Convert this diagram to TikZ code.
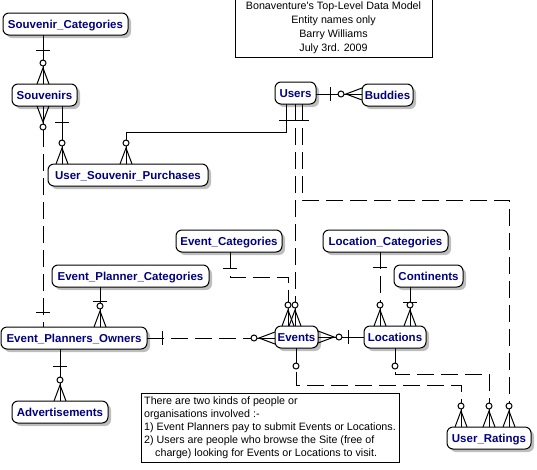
\documentclass[tikz,border=0pt]{standalone}
\usepackage{fontspec}
\newfontfamily\labelfont{Liberation Sans}
\usetikzlibrary{shadows}
\definecolor{entityblue}{RGB}{0,0,128}
\definecolor{shadowgray}{RGB}{190,190,190}
\begin{document}
\begin{tikzpicture}[x=1pt,y=-1pt,
  line/.style={line width=1pt, line cap=butt},
  rel/.style={line},
  optrel/.style={line, dash pattern=on 17pt off 7pt},
  entity/.style={draw, line width=1pt, rounded corners=6pt, fill=white,
    text=entityblue, font=\labelfont\fontsize{11.5}{13}\selectfont\bfseries,
    inner sep=0pt, outer sep=0pt, minimum height=22pt,
    text height=10pt, text depth=1pt,
    drop shadow={shadow xshift=3pt, shadow yshift=-3pt, fill=shadowgray, opacity=1}},
  textbox/.style={draw, line width=1pt, inner sep=0pt, outer sep=0pt, fill=white},
  % many-end: crow's foot on the box edge plus an optional ring
  crowfoot/.pic={
    \draw[line] (0,0) -- (18,0);
    \draw[line] (0,-6) -- (16,0) -- (0,6);
    \draw[line, fill=white] (21,0) circle (3pt);
  },
  % mandatory-one bar, across the connector
  onebar/.pic={\draw[line] (0,-7) -- (0,7);},
  % optional ring on the one-end
  zeroring/.pic={\draw[line, fill=white] (0,0) circle (3pt);}
]
\useasboundingbox (0,0) rectangle (537,469);

% ---------- header and note ----------
\node[textbox, minimum width=197pt, minimum height=58pt, align=center,
      font=\labelfont\fontsize{10.7}{13.9}\selectfont] (title) at (333.5,28)
  {Bonaventure's Top-Level Data Model\\Entity names only\\Barry Williams\\July 3rd. 2009};

\node[textbox, minimum width=258pt, minimum height=69pt, align=left,
      font=\labelfont\fontsize{10.7}{13}\selectfont] (note) at (270,427.5)
  {There are two kinds of people or\\
   organisations involved :-\\
   1) Event Planners pay to submit Events or Locations.\\
   2) Users are people who browse the Site (free of\\
   \hspace*{11pt}charge) looking for Events or Locations to visit.};

% ---------- entities ----------
\node[entity, minimum width=125pt] (sc)      at (65.5,24)  {Souvenir\_Categories};
\node[entity, minimum width=65pt]  (souv)    at (44.5,95)  {Souvenirs};
\node[entity, minimum width=160pt] (usp)     at (128,175)  {User\_Souvenir\_Purchases};
\node[entity, minimum width=41pt]  (users)   at (295.5,93) {Users};
\node[entity, minimum width=51pt]  (buddies) at (387.5,95) {Buddies};
\node[entity, minimum width=106pt] (ec)      at (229,241)  {Event\_Categories};
\node[entity, minimum width=157pt] (epc)     at (130.5,276){Event\_Planner\_Categories};
\node[entity, minimum width=146pt] (epo)     at (74,338)   {Event\_Planners\_Owners};
\node[entity, minimum width=96pt]  (ads)     at (60,412)   {Advertisements};
\node[entity, minimum width=43pt]  (events)  at (296.5,337){Events};
\node[entity, minimum width=62pt]  (loc)     at (395,337)  {Locations};
\node[entity, minimum width=125pt] (lc)      at (385.5,241){Location\_Categories};
\node[entity, minimum width=69pt]  (cont)    at (428.5,276){Continents};
\node[entity, minimum width=84pt]  (ur)      at (489,438)  {User\_Ratings};

% ---------- relationships ----------
% Souvenir_Categories -- Souvenirs
\draw[rel] (43,0 |- sc.south) -- (43,0 |- souv.north);
\pic[rotate=90] at (43,50) {onebar};
\pic[rotate=90] at (43,0 |- souv.north) {crowfoot};

% Souvenirs -- Event_Planners_Owners
\draw[optrel] (43,0 |- souv.south) -- (43,0 |- epo.north);
\pic[rotate=-90] at (43,0 |- souv.south) {crowfoot};
\pic[rotate=90] at (43,312) {onebar};

% Souvenirs -- User_Souvenir_Purchases
\draw[rel] (62,0 |- souv.south) -- (62,0 |- usp.north);
\pic[rotate=90] at (62,122) {onebar};
\pic[rotate=90] at (62,0 |- usp.north) {crowfoot};

% Users -- User_Souvenir_Purchases
\draw[rel] (286,0 |- users.south) -- (286,132) -- (126,132) -- (126,0 |- usp.north);
\pic[rotate=90] at (286,120) {onebar};
\pic[rotate=90] at (126,0 |- usp.north) {crowfoot};

% Users -- Events
\draw[optrel] (295,0 |- users.south) -- (295,0 |- events.north);
\pic[rotate=90] at (295,120) {onebar};
\pic[rotate=90] at (295,0 |- events.north) {crowfoot};

% Users -- User_Ratings
\draw[optrel] (302,0 |- users.south) -- (302,200) -- (509,200) -- (509,0 |- ur.north);
\pic[rotate=90] at (302,120) {onebar};
\pic[rotate=90] at (509,0 |- ur.north) {crowfoot};

% Users -- Buddies
\draw[rel] (users.east |- 0,94) -- (buddies.west |- 0,94);
\pic at (330,94) {onebar};
\pic[rotate=180] at (buddies.west |- 0,94) {crowfoot};

% Event_Categories -- Events
\draw[optrel] (230,0 |- ec.south) -- (230,277) -- (288,277) -- (288,0 |- events.north);
\pic[rotate=90] at (230,268) {onebar};
\pic[rotate=90] at (288,0 |- events.north) {crowfoot};

% Event_Planners_Owners -- Events
\draw[optrel] (epo.east |- 0,338) -- (events.west |- 0,338);
\pic at (162,338) {onebar};
\pic[rotate=180] at (events.west |- 0,338) {crowfoot};

% Event_Planner_Categories -- Event_Planners_Owners
\draw[rel] (100,0 |- epc.south) -- (100,0 |- epo.north);
\pic[rotate=90] at (100,301) {onebar};
\pic[rotate=90] at (100,0 |- epo.north) {crowfoot};

% Event_Planners_Owners -- Advertisements
\draw[rel] (60,0 |- epo.south) -- (60,0 |- ads.north);
\pic[rotate=90] at (60,366) {onebar};
\pic[rotate=90] at (60,0 |- ads.north) {crowfoot};

% Events -- Locations
\draw[rel] (events.east |- 0,337) -- (loc.west |- 0,337);
\pic at (events.east |- 0,337) {crowfoot};
\pic at (348,337) {onebar};

% Location_Categories -- Locations
\draw[optrel] (380,0 |- lc.south) -- (380,0 |- loc.north);
\pic[rotate=90] at (380,267) {onebar};
\pic[rotate=90] at (380,0 |- loc.north) {crowfoot};

% Continents -- Locations
\draw[rel] (410,0 |- cont.south) -- (410,0 |- loc.north);
\pic[rotate=90] at (410,302) {onebar};
\pic[rotate=90] at (410,0 |- loc.north) {crowfoot};

% Events -- User_Ratings
\draw[optrel] (296,0 |- events.south) -- (296,385) -- (461,385) -- (461,0 |- ur.north);
\pic at (296,366) {zeroring};
\pic[rotate=90] at (461,0 |- ur.north) {crowfoot};

% Locations -- User_Ratings
\draw[optrel] (395,0 |- loc.south) -- (395,374) -- (489,374) -- (489,0 |- ur.north);
\pic at (395,366) {zeroring};
\pic[rotate=90] at (489,0 |- ur.north) {crowfoot};
\end{tikzpicture}
\end{document}
